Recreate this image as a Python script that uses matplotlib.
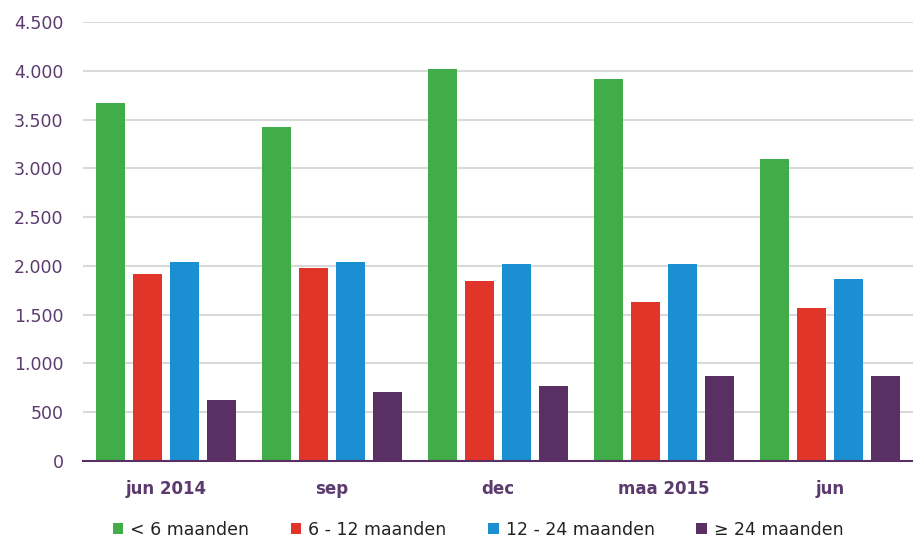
import matplotlib.pyplot as plt
import numpy as np

plt.rcParams["font.family"] = ["DejaVu Sans"]

# Data
categories = ["jun 2014", "sep", "dec", "maa 2015", "jun"]
series_names = ["< 6 maanden", "6 - 12 maanden", "12 - 24 maanden", "≥ 24 maanden"]
lt6 = [3670, 3425, 4020, 3915, 3100]
m6_12 = [1915, 1975, 1850, 1630, 1570]
m12_24 = [2035, 2035, 2015, 2015, 1870]
ge24 = [625, 705, 770, 870, 870]
yticks = [0, 500, 1000, 1500, 2000, 2500, 3000, 3500, 4000, 4500]

colors = ["#41AD49", "#E1352A", "#1A90D2", "#5A2F63"]
text_color = "#5B3A6E"

fig = plt.figure(figsize=(9.13, 5.4), dpi=100)
ax = fig.add_axes([83 / 913, 1 - 461 / 540, 830 / 913, 439 / 540])

x = np.arange(len(categories))
offsets = [-0.337, -0.112, 0.112, 0.337]
width = 0.175
for vals, off, col, name in zip([lt6, m6_12, m12_24, ge24], offsets, colors, series_names):
    ax.bar(x + off, vals, width, color=col, label=name, zorder=3)

ax.set_xlim(-0.5, len(categories) - 0.5)
ax.set_ylim(0, 4500)
ax.set_yticks(yticks)
ax.set_yticklabels([f"{v:,}".replace(",", ".") for v in yticks], color=text_color, fontsize=12.5)
ax.set_xticks(x)
ax.set_xticklabels(categories, color=text_color, fontsize=12, fontweight="bold")
ax.tick_params(axis="both", length=0)
ax.tick_params(axis="x", pad=14)
ax.tick_params(axis="y", pad=14)

ax.grid(axis="y", color="#D9D9D9", linewidth=1.5, zorder=0)
for s in ["top", "right", "left"]:
    ax.spines[s].set_visible(False)
ax.spines["bottom"].set_color("#5A2F63")
ax.spines["bottom"].set_linewidth(1.5)
ax.spines["bottom"].set_zorder(4)

leg = fig.legend(loc="center", bbox_to_anchor=(478 / 913, 1 - 530 / 540), ncol=4, frameon=False,
                 fontsize=12.5, handlelength=0.6, handleheight=0.6, handletextpad=0.4,
                 columnspacing=2.4)
for t in leg.get_texts():
    t.set_color("#222222")

fig.savefig("out.png", dpi=100)
